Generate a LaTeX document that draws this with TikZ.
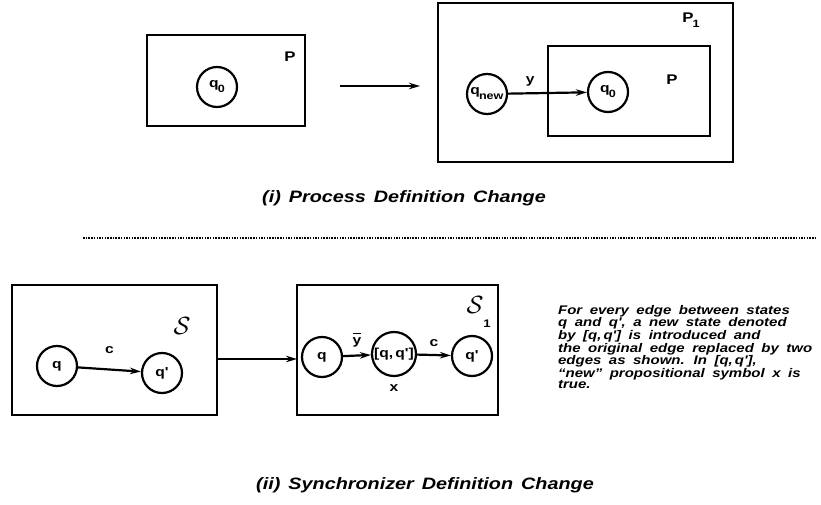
\documentclass[tikz,border=0pt]{standalone}
\usepackage{fontspec}
\newfontfamily\capfont{Liberation Sans}[FakeStretch=1.2]
\usetikzlibrary{positioning,arrows.meta}
\newcommand{\qsub}[2]{#1\kern-1pt\raisebox{-5pt}{\fontsize{10.5}{10.5}\selectfont #2}}
\newcommand{\barred}[1]{\setbox0\hbox{#1}\rlap{\rule[10.5pt]{\wd0}{1.3pt}}#1}
\newcommand{\capsetup}{\capfont\bfseries\itshape\fontsize{16.5}{18}\selectfont\spaceskip=8pt\relax}
\newcommand{\parasetup}{\capfont\bfseries\itshape\fontsize{12.5}{11.3}\selectfont\spaceskip=7.5pt\relax}

\begin{document}
\begin{tikzpicture}[>={Stealth[length=11pt,width=6.5pt]},x=1pt,y=-1pt,line width=2.2pt]
  \tikzstyle{procbox}=[draw,rectangle,inner sep=0pt,outer sep=0pt]
  \tikzstyle{st}=[draw,circle,minimum size=40pt,inner sep=0pt,
    font=\capfont\bfseries\fontsize{13}{13}\selectfont]
  \tikzstyle{lbl}=[inner sep=0pt,font=\capfont\bfseries\fontsize{13}{13}\selectfont]
  \tikzstyle{plbl}=[inner sep=0pt,font=\capfont\bfseries\fontsize{14}{14}\selectfont]
  \tikzstyle{slbl}=[inner sep=0pt,font=\fontsize{42}{42}\selectfont]
  \tikzstyle{capt}=[inner sep=0pt,font=\capsetup]
  \tikzstyle{para}=[inner sep=0pt,align=left,font=\parasetup]
  \tikzstyle{dotline}=[line width=2pt,dash pattern=on 1.5pt off 1.2pt]
  \useasboundingbox (0,0) rectangle (821,505);

  % (i) process definition change
  \node[procbox,minimum width=158,minimum height=91] (P) at (226,80.5) {};
  \node[plbl] (Plbl) at (290,57) {P};
  \node[st] (q0a) at (217,87) {\qsub{q}{0}};
  \coordinate (a1) at (340,86);
  \coordinate (a2) at (420,86);
  \draw[->] (a1) -- (a2);
  \node[procbox,minimum width=295,minimum height=159] (P1) at (585.5,82.5) {};
  \node[plbl] (P1lbl) at (691,20) {\qsub{P}{1}};
  \node[procbox,minimum width=162,minimum height=90] (Pin) at (629,91) {};
  \node[plbl] (Pinlbl) at (672,80) {P};
  \node[st] (qn) at (487,94) {\qsub{q}{new}};
  \node[st] (q0b) at (608,92) {\qsub{q}{0}};
  \draw[->] (qn) -- (q0b) node[lbl,pos=0.28,above=6pt] {y};
  \node[capt] (cap1) at (404,198) {(i) Process Definition Change};

  \coordinate (d1) at (83,238);
  \coordinate (d2) at (815,238);
  \draw[dotline] (d1) -- (d2);

  % (ii) synchronizer definition change
  \node[procbox,minimum width=205,minimum height=130] (S) at (114.5,350) {};
  \node[slbl] (Slbl) at (182,326) {$\mathcal{S}$};
  \node[st] (qa) at (57,366) {q};
  \node[st] (qpa) at (162,373) {q'};
  \draw[->] (qa) -- (qpa) node[lbl,midway,above=15pt] {c};
  \node[procbox,minimum width=201,minimum height=130] (S1) at (397.5,350) {};
  \draw[->] ([yshift=-9pt]S.east) -- ([yshift=-9pt]S1.west);
  \node[slbl] (S1lbl) at (475,305) {$\mathcal{S}$};
  \node[plbl,font=\capfont\bfseries\fontsize{11}{11}\selectfont] (S1sub) at (487,324) {1};
  \node[st] (qb) at (322,357) {q};
  \node[st,minimum size=44pt] (qq) at (394,354) {[q,\,q']};
  \node[st] (qpb) at (472,356) {q'};
  \draw[->] (qb) -- (qq) node[lbl,midway,above=7pt] {\barred{y}};
  \draw[->] (qq) -- (qpb) node[lbl,midway,above=7pt] {c};
  \node[lbl,below=6pt of qq] (xlbl) {x};
  \node[para,anchor=north west] (note) at (557,304) {For every edge between states\\
    q and q', a new state denoted\\
    by [q,\,q'] is introduced and\\
    the original edge replaced by two\\
    edges as shown. In [q,\,q'],\\
    \textquotedblleft new\textquotedblright\ propositional symbol x is\\
    true.};
  \node[capt] (cap2) at (425,485) {(ii) Synchronizer Definition Change};
\end{tikzpicture}
\end{document}
